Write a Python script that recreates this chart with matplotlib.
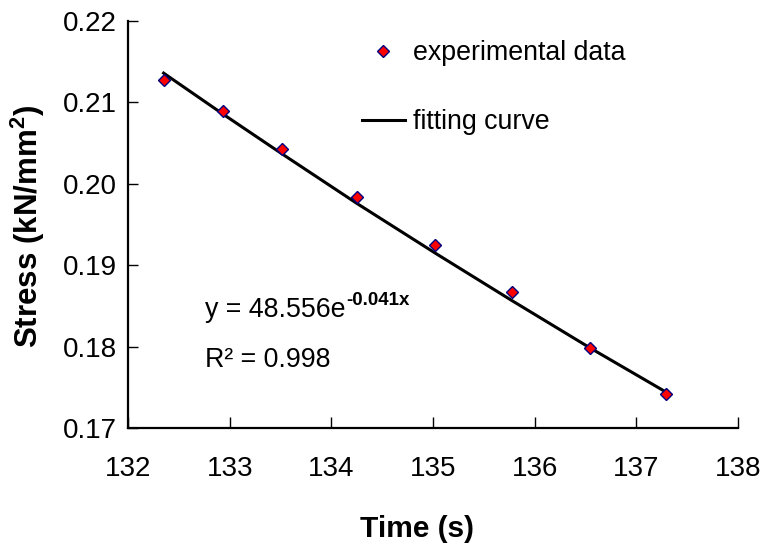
import matplotlib
matplotlib.use("Agg")
import matplotlib.pyplot as plt
from matplotlib.ticker import FormatStrFormatter

plt.rcParams['font.family'] = ['Liberation Sans', 'DejaVu Sans']
plt.rcParams['mathtext.fontset'] = 'custom'
plt.rcParams['mathtext.rm'] = 'Liberation Sans'
plt.rcParams['mathtext.bf'] = 'Liberation Sans:bold'
plt.rcParams['mathtext.it'] = 'Liberation Sans:italic'

time_s = [132.35, 132.93, 133.51, 134.25, 135.02, 135.78, 136.54, 137.29]
stress = [0.2127, 0.2090, 0.2043, 0.1984, 0.1925, 0.1867, 0.1798, 0.1742]

# Fitting curve
fit_time = [132.35, 132.93, 133.50, 134.25, 135.02, 135.77, 136.55, 137.28]
fit_stress = [0.2136, 0.2086, 0.2038, 0.1976, 0.1915, 0.1857, 0.1798, 0.1745]

x_ticks = [132, 133, 134, 135, 136, 137, 138]
y_ticks = [0.17, 0.18, 0.19, 0.20, 0.21, 0.22]

FS = 19.3
TFS = 20

fig = plt.figure(figsize=(7.66, 5.48), dpi=100)
ax = fig.add_axes([128/766, 1-428/548, 610/766, 407/548])

line, = ax.plot(fit_time, fit_stress, color='black', lw=2.2, zorder=2)
pts, = ax.plot(time_s, stress, ls='none', marker='D', ms=6.3,
               markerfacecolor='#ff0000', markeredgecolor='#000080',
               markeredgewidth=1.0, zorder=3)

ax.set_xlim(132, 138)
ax.set_ylim(0.17, 0.22)
ax.set_xticks(x_ticks)
ax.set_yticks(y_ticks)
ax.yaxis.set_major_formatter(FormatStrFormatter('%.2f'))

for s in ['top', 'right']:
    ax.spines[s].set_visible(False)
for s in ['left', 'bottom']:
    ax.spines[s].set_linewidth(1.6)

ax.tick_params(axis='x', direction='in', length=8, width=1.0, pad=20, labelsize=TFS)
ax.tick_params(axis='y', direction='in', length=7, width=1.0, pad=8, labelsize=TFS)

ax.set_xlabel('Time (s)', fontsize=21.5, fontweight='bold')
ax.set_ylabel('Stress (kN/mm$^{\\mathbf{2}}$)', fontsize=22.5, fontweight='bold')
ax.xaxis.set_label_coords((417-128)/610, (428-515)/407)
ax.yaxis.set_label_coords((47-128)/610, (428-226)/407)

eq = ax.text(132.76, 0.1836, 'y = 48.556e', fontsize=FS, va='baseline', ha='left')
ax.annotate('-0.041x', xy=(1, 1), xycoords=eq, xytext=(0, -12), textcoords='offset pixels',
            fontsize=13.5, fontweight='bold', va='bottom', ha='left')
ax.text(132.76, 0.1775, 'R\u00b2 = 0.998', fontsize=FS, va='baseline', ha='left')

leg = ax.legend([pts, line], ['experimental data', 'fitting curve'],
                loc='upper left', bbox_to_anchor=((362-128)/610, (428-40)/407),
                frameon=False, fontsize=FS, handlelength=1.6, handletextpad=0.3,
                labelspacing=1.6, borderpad=0, borderaxespad=0, numpoints=1)

fig.savefig('out.png', dpi=100)
